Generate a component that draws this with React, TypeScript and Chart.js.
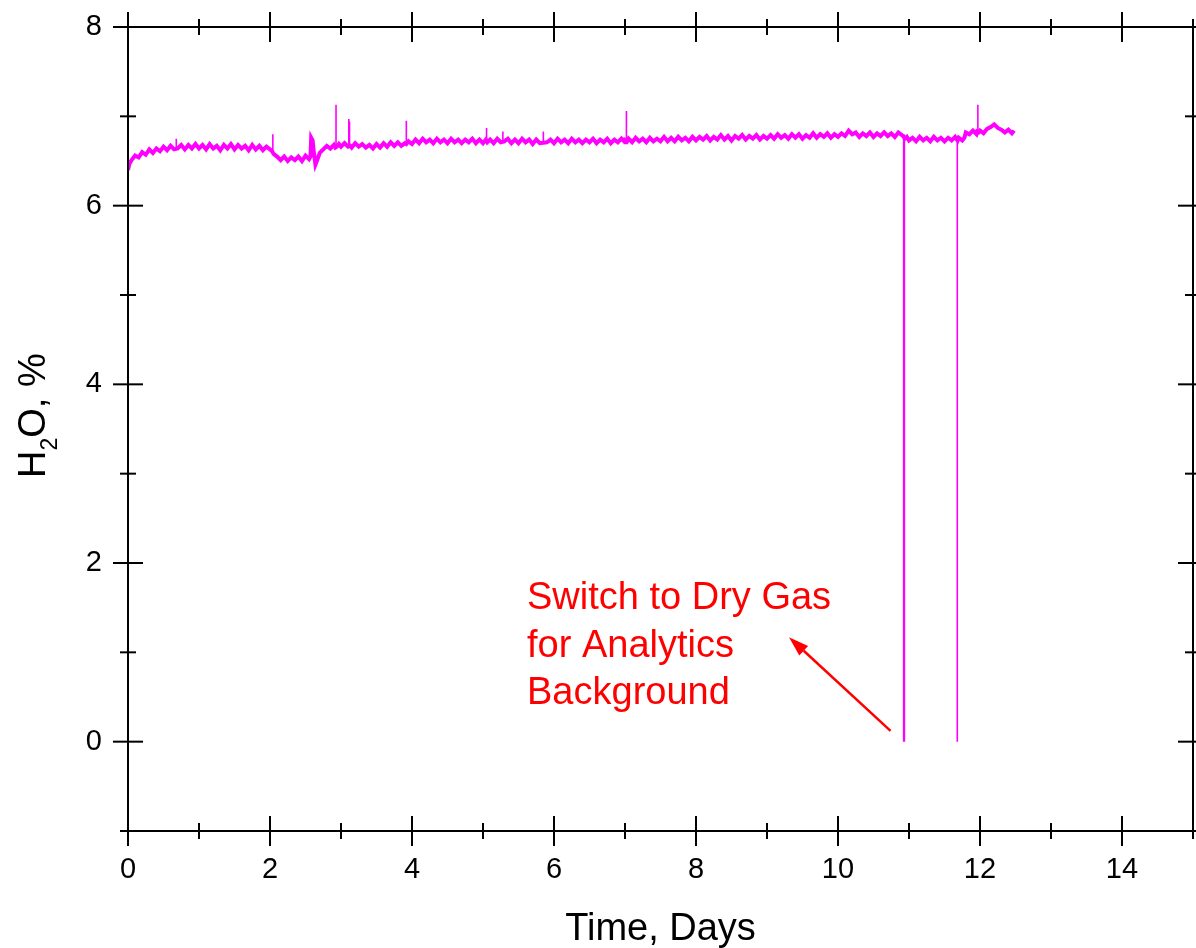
import React, { useEffect, useRef } from 'react';
import { Chart, registerables } from 'chart.js';

Chart.register(...registerables);

// ---- Data ----
// Continuous H2O trace (noisy band)
const days01 = [0, 0.02, 0.05, 0.1, 0.15, 0.2, 0.25, 0.3, 0.35, 0.4, 0.45, 0.5, 0.55, 0.6, 0.65, 0.7, 0.75, 0.8, 0.85, 0.9, 0.95,
  1, 1.05, 1.1, 1.15, 1.2, 1.25, 1.3, 1.35, 1.4, 1.45, 1.5, 1.55, 1.6, 1.65, 1.7, 1.75, 1.8, 1.85, 1.9, 1.95];
const h2o01 = [6.40, 6.47, 6.51, 6.56, 6.54, 6.60, 6.57, 6.63, 6.59, 6.64, 6.61, 6.66, 6.62, 6.67, 6.63, 6.64, 6.68, 6.63, 6.68, 6.64, 6.69,
  6.64, 6.68, 6.63, 6.69, 6.64, 6.67, 6.62, 6.68, 6.64, 6.69, 6.63, 6.68, 6.64, 6.67, 6.62, 6.68, 6.63, 6.67, 6.62, 6.66];

const days23 = [2, 2.03, 2.05, 2.1, 2.15, 2.2, 2.25, 2.3, 2.35, 2.4, 2.45, 2.5, 2.55, 2.57, 2.58, 2.6, 2.62, 2.64, 2.66, 2.7, 2.75, 2.8, 2.85, 2.9, 2.92, 2.94, 2.97,
  3.0, 3.05, 3.1, 3.13, 3.15, 3.2, 3.25, 3.3, 3.35, 3.4, 3.45, 3.5, 3.55, 3.6, 3.65, 3.7, 3.75, 3.8, 3.85, 3.9, 3.92, 3.95];
const h2o23 = [6.63, 6.61, 6.58, 6.55, 6.51, 6.55, 6.50, 6.54, 6.51, 6.55, 6.50, 6.56, 6.52, 6.55, 6.76, 6.73, 6.58, 6.46, 6.50, 6.59, 6.63, 6.67, 6.64, 6.68, 6.65, 6.66, 6.69,
  6.66, 6.70, 6.66, 6.67, 6.65, 6.70, 6.66, 6.69, 6.65, 6.68, 6.64, 6.69, 6.65, 6.70, 6.66, 6.71, 6.67, 6.71, 6.67, 6.70, 6.69, 6.72];

const days45 = [4, 4.05, 4.1, 4.15, 4.2, 4.25, 4.3, 4.35, 4.4, 4.45, 4.5, 4.55, 4.6, 4.65, 4.7, 4.75, 4.8, 4.85, 4.9, 4.95,
  5.0, 5.04, 5.06, 5.1, 5.15, 5.2, 5.25, 5.3, 5.35, 5.4, 5.45, 5.5, 5.55, 5.6, 5.65, 5.7, 5.75, 5.8, 5.9, 5.95];
const h2o45 = [6.69, 6.74, 6.70, 6.75, 6.71, 6.74, 6.70, 6.75, 6.71, 6.74, 6.70, 6.75, 6.71, 6.74, 6.70, 6.74, 6.71, 6.75, 6.70, 6.74,
  6.70, 6.74, 6.71, 6.74, 6.70, 6.75, 6.71, 6.72, 6.75, 6.70, 6.74, 6.70, 6.75, 6.71, 6.74, 6.69, 6.74, 6.70, 6.71, 6.74];

const days67 = [6, 6.05, 6.1, 6.15, 6.2, 6.25, 6.3, 6.35, 6.4, 6.45, 6.5, 6.55, 6.6, 6.65, 6.7, 6.75, 6.8, 6.85, 6.9, 6.95,
  7.0, 7.01, 7.03, 7.05, 7.1, 7.15, 7.2, 7.25, 7.3, 7.35, 7.4, 7.45, 7.5, 7.55, 7.6, 7.65, 7.7, 7.75, 7.8, 7.85, 7.9, 7.95];
const h2o67 = [6.70, 6.75, 6.71, 6.74, 6.70, 6.75, 6.71, 6.74, 6.70, 6.74, 6.71, 6.75, 6.70, 6.74, 6.71, 6.75, 6.70, 6.74, 6.71, 6.75,
  6.71, 6.73, 6.72, 6.75, 6.71, 6.76, 6.72, 6.75, 6.71, 6.76, 6.72, 6.75, 6.72, 6.77, 6.72, 6.76, 6.72, 6.77, 6.73, 6.76, 6.72, 6.77];

const days89 = [8, 8.05, 8.1, 8.15, 8.2, 8.25, 8.3, 8.35, 8.4, 8.45, 8.5, 8.55, 8.6, 8.65, 8.7, 8.75, 8.8, 8.85, 8.9, 8.95,
  9, 9.05, 9.1, 9.15, 9.2, 9.25, 9.3, 9.35, 9.4, 9.45, 9.5, 9.55, 9.6, 9.65, 9.7, 9.75, 9.8, 9.85, 9.9, 9.95];
const h2o89 = [6.73, 6.77, 6.74, 6.78, 6.73, 6.77, 6.74, 6.79, 6.74, 6.78, 6.73, 6.78, 6.75, 6.79, 6.74, 6.78, 6.75, 6.79, 6.74, 6.78,
  6.75, 6.79, 6.75, 6.80, 6.76, 6.79, 6.75, 6.80, 6.76, 6.80, 6.75, 6.79, 6.76, 6.81, 6.76, 6.80, 6.77, 6.81, 6.76, 6.80];

const days10 = [10, 10.05, 10.1, 10.15, 10.2, 10.25, 10.3, 10.35, 10.4, 10.45, 10.5, 10.55, 10.6, 10.65, 10.7, 10.75, 10.8, 10.85, 10.9,
  10.92, 10.94, 10.97];
const h2o10 = [6.77, 6.81, 6.78, 6.84, 6.80, 6.82, 6.77, 6.81, 6.78, 6.82, 6.77, 6.81, 6.78, 6.82, 6.78, 6.81, 6.77, 6.82, 6.79,
  6.78, 6.75, 6.77];

const days1112 = [11, 11.05, 11.1, 11.15, 11.2, 11.25, 11.3, 11.35, 11.4, 11.45, 11.5, 11.55, 11.6, 11.65, 11.675, 11.685,
  11.7, 11.75, 11.78, 11.8, 11.85, 11.9, 11.95, 11.96, 11.98,
  12.0, 12.05, 12.1, 12.15, 12.2, 12.25, 12.3, 12.35, 12.4, 12.45, 12.48];
const h2o1112 = [6.73, 6.76, 6.72, 6.77, 6.73, 6.76, 6.72, 6.77, 6.73, 6.76, 6.72, 6.76, 6.73, 6.77, 6.74, 6.73,
  6.76, 6.73, 6.76, 6.82, 6.80, 6.84, 6.80, 6.83, 6.82,
  6.84, 6.81, 6.86, 6.88, 6.91, 6.87, 6.85, 6.82, 6.85, 6.81, 6.84];

// Single-sample spikes and dry-gas dropouts (thin strokes)
const spikeDays = [0.68, 2.04, 2.93, 3.11, 3.12, 3.92, 5.05, 5.28, 5.85, 7.02, 10.925, 10.935, 11.68, 11.97];
const spikeBase = [6.65, 6.61, 6.66, 6.67, 6.67, 6.70, 6.72, 6.73, 6.72, 6.73, 6.78, 6.77, 6.74, 6.82];
const spikeTop = [6.75, 6.80, 7.13, 6.97, 6.94, 6.95, 6.87, 6.83, 6.83, 7.06, 0, 0, 0, 7.13];

const allDays = [...days01, ...days23, ...days45, ...days67, ...days89, ...days10, ...days1112];
const allH2O = [...h2o01, ...h2o23, ...h2o45, ...h2o67, ...h2o89, ...h2o10, ...h2o1112];

const xTitle = 'Time, Days';
const annotationLines = ['Switch to Dry Gas', 'for Analytics', 'Background'];
const annotationAnchor = { x: 5.62, y: 1.48 };
const arrowTail = { x: 10.74, y: 0.12 };
const arrowTip = { x: 9.31, y: 1.17 };

const FONT = '"Liberation Sans", Arial, sans-serif';
const MAGENTA = '#FF00FF';

const decorPlugin = {
  id: 'decor',
  afterDraw(chart: any) {
    const { ctx, chartArea: a, scales } = chart;
    const xs = scales.x;
    const ys = scales.y;
    ctx.save();
    ctx.strokeStyle = '#000';
    ctx.lineWidth = 2;
    ctx.lineCap = 'butt';
    ctx.strokeRect(a.left, a.top, a.right - a.left, a.bottom - a.top);
    const seg = (x1: number, y1: number, x2: number, y2: number) => {
      ctx.beginPath();
      ctx.moveTo(x1, y1);
      ctx.lineTo(x2, y2);
      ctx.stroke();
    };
    for (let v = xs.min; v <= xs.max; v += 1) {
      const len = v % 2 === 0 ? 15 : 8;
      const px = xs.getPixelForValue(v);
      seg(px, a.bottom - len, px, a.bottom + len);
      seg(px, a.top - len, px, a.top + len);
    }
    for (let v = ys.min; v <= ys.max; v += 1) {
      const len = v % 2 === 0 ? 15 : 8;
      const py = ys.getPixelForValue(v);
      seg(a.left - len, py, a.left + len, py);
      seg(a.right - len, py, a.right + len, py);
    }

    // x title
    ctx.fillStyle = '#000';
    ctx.font = `38px ${FONT}`;
    ctx.textAlign = 'center';
    ctx.textBaseline = 'alphabetic';
    ctx.fillText(xTitle, (a.left + a.right) / 2, a.bottom + 109);

    // y title with subscript
    ctx.save();
    ctx.translate(a.left - 83, a.top + 451);
    ctx.rotate(-Math.PI / 2);
    ctx.textAlign = 'left';
    let cx = 0;
    ctx.font = `38px ${FONT}`;
    ctx.fillText('H', cx, 0);
    cx += ctx.measureText('H').width;
    ctx.font = `23px ${FONT}`;
    ctx.fillText('2', cx, 12);
    cx += ctx.measureText('2').width;
    ctx.font = `38px ${FONT}`;
    ctx.fillText('O, %', cx, 0);
    ctx.restore();

    // annotation
    ctx.fillStyle = '#FF0000';
    ctx.font = `38px ${FONT}`;
    ctx.textAlign = 'left';
    const tx = xs.getPixelForValue(annotationAnchor.x);
    const ty = ys.getPixelForValue(annotationAnchor.y);
    annotationLines.forEach((line, i) => ctx.fillText(line, tx, ty + i * 47.5));

    // arrow
    const x1 = xs.getPixelForValue(arrowTail.x);
    const y1 = ys.getPixelForValue(arrowTail.y);
    const x2 = xs.getPixelForValue(arrowTip.x);
    const y2 = ys.getPixelForValue(arrowTip.y);
    const ang = Math.atan2(y2 - y1, x2 - x1);
    const headLen = 20;
    const headW = 6.5;
    ctx.strokeStyle = '#FF0000';
    ctx.fillStyle = '#FF0000';
    ctx.lineWidth = 2.5;
    const bx = x2 - headLen * Math.cos(ang);
    const by = y2 - headLen * Math.sin(ang);
    seg(x1, y1, bx, by);
    ctx.beginPath();
    ctx.moveTo(x2, y2);
    ctx.lineTo(bx + headW * Math.sin(ang), by - headW * Math.cos(ang));
    ctx.lineTo(bx - headW * Math.sin(ang), by + headW * Math.cos(ang));
    ctx.closePath();
    ctx.fill();
    ctx.restore();
  },
};

export default function App() {
  const ref = useRef<HTMLCanvasElement>(null);
  useEffect(() => {
    const trace = allDays.map((d, i) => ({ x: d, y: allH2O[i] }));
    const spikes: { x: number; y: number | null }[] = [];
    spikeDays.forEach((d, i) => {
      spikes.push({ x: d, y: spikeBase[i] }, { x: d, y: spikeTop[i] }, { x: d, y: null });
    });
    const chart = new Chart(ref.current as HTMLCanvasElement, {
      type: 'line',
      data: {
        datasets: [
          {
            data: trace,
            borderColor: MAGENTA,
            backgroundColor: MAGENTA,
            borderWidth: 4,
            pointRadius: 0,
            tension: 0,
            fill: false,
          },
          {
            data: spikes as any,
            borderColor: MAGENTA,
            backgroundColor: MAGENTA,
            borderWidth: 1.6,
            pointRadius: 0,
            tension: 0,
            fill: false,
            spanGaps: false,
          },
        ],
      },
      options: {
        responsive: false,
        maintainAspectRatio: false,
        animation: false,
        devicePixelRatio: 1,
        layout: { padding: { left: 0, right: 3, top: 27, bottom: 0 } },
        plugins: { legend: { display: false }, tooltip: { enabled: false } },
        scales: {
          x: {
            type: 'linear',
            min: 0,
            max: 15,
            afterBuildTicks: (s: any) => {
              s.ticks = s.ticks.filter((t: any) => t.value % 2 === 0);
            },
            afterFit: (s: any) => {
              s.height = 117;
              s.paddingLeft = 0;
              s.paddingRight = 0;
            },
            ticks: {
              stepSize: 2,
              color: '#000',
              padding: 22,
              maxRotation: 0,
              autoSkip: false,
              font: { size: 29, family: FONT },
            },
            grid: { display: false, drawTicks: false },
            border: { display: false },
          },
          y: {
            type: 'linear',
            min: -1,
            max: 8,
            afterBuildTicks: (s: any) => {
              s.ticks = s.ticks.filter((t: any) => t.value >= 0 && t.value % 2 === 0);
            },
            afterFit: (s: any) => {
              s.width = 128;
              s.paddingTop = 0;
              s.paddingBottom = 0;
            },
            ticks: {
              stepSize: 2,
              color: '#000',
              padding: 26,
              autoSkip: false,
              font: { size: 29, family: FONT },
            },
            grid: { display: false, drawTicks: false },
            border: { display: false },
          },
        },
      },
      plugins: [decorPlugin],
    });
    return () => chart.destroy();
  }, []);
  return (
    <div style={{ position: 'absolute', left: 0, top: 0, width: 1196, height: 948, background: '#fff' }}>
      <canvas ref={ref} width={1196} height={948} style={{ display: 'block', width: 1196, height: 948 }} />
    </div>
  );
}
